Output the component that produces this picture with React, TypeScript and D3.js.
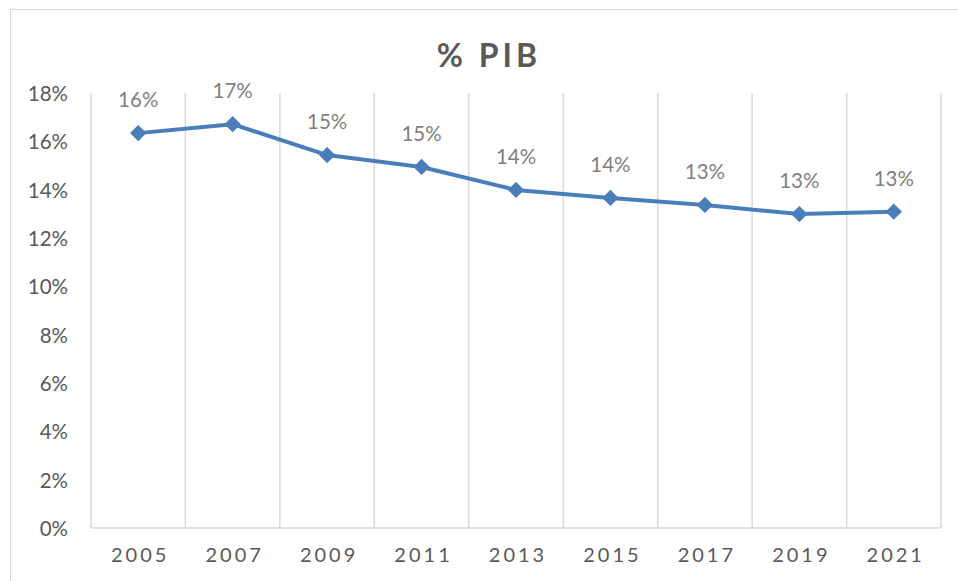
import * as d3 from "d3";

const years = ["2005", "2007", "2009", "2011", "2013", "2015", "2017", "2019", "2021"];
const pibShare = [0.1634, 0.1671, 0.1543, 0.1494, 0.1399, 0.1366, 0.1337, 0.1299, 0.1309];
const yTicks = [0, 0.02, 0.04, 0.06, 0.08, 0.1, 0.12, 0.14, 0.16, 0.18];
const title = "% PIB";

const W = 958;
const H = 581;
const plot = { left: 91, right: 941, top: 93, bottom: 528 };
const font = "Lato, 'Open Sans', sans-serif";

export default function App() {
  const x = d3.scaleBand().domain(years).range([plot.left, plot.right]).padding(0);
  const y = d3.scaleLinear().domain([0, 0.18]).range([plot.bottom, plot.top]);
  const pct = d3.format(".0%");

  const line = d3
    .line<number>()
    .x((_, i) => x(years[i])! + x.bandwidth() / 2)
    .y((d) => y(d));

  const diamond = d3.symbol().type(d3.symbolDiamond2).size(170)();
  const bounds = years.map((yr) => x(yr)!).concat([plot.right]);

  return (
    <svg
      width={W}
      height={H}
      style={{ position: "absolute", left: 0, top: 0, background: "#fff" }}
    >
      <rect x={10.5} y={9.5} width={970} height={620} fill="#fff" stroke="#d9d9d9" />

      <text
        x={489}
        y={67}
        textAnchor="middle"
        fontFamily={font}
        fontWeight={700}
        fontSize={32}
        letterSpacing={4}
        fill="#595959"
      >
        {title}
      </text>

      {/* vertical gridlines at category boundaries */}
      {bounds.map((bx, i) => (
        <line
          key={i}
          x1={bx}
          x2={bx}
          y1={plot.top}
          y2={plot.bottom}
          stroke="#d9d9d9"
          strokeWidth={1.5}
        />
      ))}
      <line
        x1={plot.left}
        x2={plot.right}
        y1={plot.bottom}
        y2={plot.bottom}
        stroke="#d9d9d9"
        strokeWidth={1.5}
      />

      {/* y axis labels */}
      {yTicks.map((t) => (
        <text
          key={t}
          x={68}
          y={y(t)}
          textAnchor="end"
          dominantBaseline="central"
          fontFamily={font}
          fontSize={20.5}
          fill="#595959"
        >
          {pct(t)}
        </text>
      ))}

      {/* x axis labels */}
      {years.map((yr) => (
        <text
          key={yr}
          x={x(yr)! + x.bandwidth() / 2 + 2}
          y={562}
          textAnchor="middle"
          fontFamily={font}
          fontSize={20}
          letterSpacing={3}
          fill="#595959"
        >
          {yr}
        </text>
      ))}

      <path
        d={line(pibShare) || ""}
        fill="none"
        stroke="#4a7ebb"
        strokeWidth={4}
        strokeLinejoin="round"
      />
      {pibShare.map((v, i) => (
        <path
          key={years[i]}
          d={diamond || ""}
          transform={`translate(${x(years[i])! + x.bandwidth() / 2},${y(v)})`}
          fill="#4a7ebb"
        />
      ))}

      {/* data labels */}
      {pibShare.map((v, i) => (
        <text
          key={years[i]}
          x={x(years[i])! + x.bandwidth() / 2}
          y={y(v) - 26}
          textAnchor="middle"
          fontFamily={font}
          fontSize={20.5}
          fill="#7f7f7f"
        >
          {pct(v)}
        </text>
      ))}
    </svg>
  );
}
